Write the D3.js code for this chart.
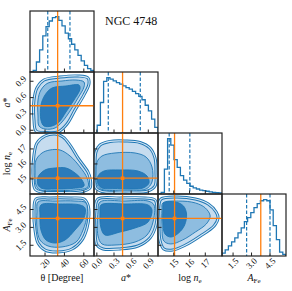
<!DOCTYPE html>
<html>
<head>
<meta charset="utf-8">
<script src="https://cdn.jsdelivr.net/npm/d3@7"></script>
<style>
body { margin: 0; background: #fff; }
svg { display: block; }
</style>
</head>
<body>
<svg width="292" height="291" font-family="'Liberation Serif', 'Times New Roman', 'DejaVu Serif', serif"></svg>
<script>
var svg = d3.select("svg");

// ranges / ticks for theta, a*, log ne, A_Fe
var ranges = [[4.5, 70.5], [-0.05, 1.07], [14.0, 18.06], [0.6, 5.8]];
var tickVals = [[20, 40, 60], [0.0, 0.3, 0.6, 0.9], [15, 16, 17], [1.5, 3.0, 4.5]];
var tickText = [["20", "40", "60"], ["0.0", "0.3", "0.6", "0.9"], ["15", "16", "17"], ["1.5", "3.0", "4.5"]];
var truths = [33, 0.45, 15.05, 3.75];
var qLow = [22.8, 0.2, 14.71, 2.6];
var qHigh = [45.7, 0.76, 16.02, 4.5];

// 1D histograms (20 bins across each range, relative counts)
var thetaHist = [0, 0.03, 0.18, 0.40, 0.65, 0.82, 0.92, 0.98, 1.0, 0.93, 0.83, 0.70, 0.60, 0.50, 0.40, 0.30, 0.20, 0.12, 0.06, 0.03];
var astarHist = [0, 0.14, 0.55, 0.93, 1.0, 0.97, 0.94, 0.91, 0.88, 0.85, 0.82, 0.79, 0.75, 0.71, 0.66, 0.60, 0.50, 0.40, 0.25, 0.10];
var logneHist = [0, 0.03, 0.45, 1.0, 0.88, 0.62, 0.48, 0.33, 0.25, 0.19, 0.14, 0.11, 0.09, 0.07, 0.06, 0.05, 0.04, 0.03, 0.025, 0.02];
var afeHist = [0.05, 0.11, 0.18, 0.25, 0.32, 0.41, 0.50, 0.61, 0.68, 0.77, 0.86, 0.93, 0.98, 1.0, 0.98, 0.82, 0.54, 0.29, 0.07, 0.03];
var hists = [thetaHist, astarHist, logneHist, afeHist];

// 2D contours [outer, middle, inner], points in data units
var thetaAstar = [
  [[18.9,0.923],[35.4,0.978],[54.0,0.997],[64.3,0.96],[65.3,0.85],[60.2,0.65],[50.9,0.37],[42.7,0.115],[33.4,-0.03],[20.0,-0.04],[10.7,-0.013],[8.6,0.19],[8.6,0.56],[11.7,0.78]],
  [[23.1,0.868],[37.5,0.905],[51.9,0.923],[60.2,0.886],[60.2,0.795],[54.0,0.593],[45.8,0.354],[37.5,0.152],[30.3,0.042],[20.0,0.023],[13.8,0.079],[12.75,0.262],[12.75,0.556],[15.8,0.74]],
  [[27.2,0.776],[41.6,0.813],[55.0,0.831],[56.1,0.758],[49.9,0.556],[41.6,0.336],[34.4,0.152],[27.2,0.079],[18.9,0.079],[15.8,0.189],[15.8,0.464],[20.0,0.648]]
];
var thetaLogne = [
  [[11.7,17.40],[20.0,17.86],[30.3,17.99],[38.5,17.80],[45.8,17.26],[54.0,16.40],[64.3,15.46],[66.4,15.07],[66.4,14.40],[56.1,14.13],[35.4,14.10],[16.9,14.13],[9.7,14.33],[7.6,15.26],[8.6,16.60]],
  [[10.7,16.26],[16.9,16.73],[25.1,16.93],[35.4,16.93],[45.8,16.53],[56.1,15.80],[63.3,15.07],[64.3,14.47],[50.9,14.27],[30.3,14.23],[14.8,14.27],[10.7,14.60],[9.66,15.46]],
  [[12.75,15.13],[20.0,15.60],[30.3,15.73],[41.6,15.73],[50.9,15.40],[58.1,14.93],[60.2,14.53],[47.8,14.37],[30.3,14.33],[16.9,14.37],[12.75,14.60]]
];
var astarLogne = [
  [[-0.015,16.80],[0.055,17.26],[0.23,17.50],[0.4925,17.53],[0.755,17.43],[0.93,17.06],[1.0175,16.40],[1.035,15.46],[1.0175,14.53],[0.895,14.20],[0.4925,14.13],[0.09,14.17],[-0.015,14.40],[-0.0325,15.60]],
  [[0.0025,16.13],[0.09,16.53],[0.3175,16.73],[0.6675,16.73],[0.86,16.46],[0.965,15.80],[0.965,14.80],[0.86,14.33],[0.4925,14.27],[0.09,14.30],[0.0025,14.60],[-0.015,15.46]],
  [[0.02,15.20],[0.125,15.53],[0.405,15.60],[0.72,15.53],[0.8775,15.20],[0.9125,14.73],[0.8075,14.40],[0.405,14.37],[0.09,14.40],[0.02,14.67]]
];
var thetaAfe = [
  [[10.7,5.38],[25.1,5.47],[45.8,5.47],[60.2,5.38],[64.3,4.88],[65.3,4.04],[63.3,2.95],[58.1,1.94],[47.8,1.19],[33.4,0.94],[20.0,1.10],[12.75,1.69],[9.66,2.78],[8.6,4.29]],
  [[12.75,5.13],[30.3,5.21],[50.9,5.21],[62.3,5.05],[63.3,4.04],[59.2,2.78],[52.0,1.77],[37.5,1.36],[23.1,1.44],[14.8,1.94],[11.7,2.95],[11.7,4.29]],
  [[15.8,4.88],[35.4,4.96],[56.1,4.88],[61.2,4.63],[60.2,3.79],[50.9,2.78],[40.6,1.94],[30.3,1.69],[21.0,1.94],[15.8,2.78],[14.8,4.04]]
];
var astarAfe = [
  [[0.02,5.38],[0.405,5.47],[0.8425,5.47],[1.0175,5.30],[1.0525,4.46],[1.035,3.20],[0.93,2.11],[0.72,1.44],[0.405,1.19],[0.1075,1.19],[0.0025,1.52],[-0.0325,2.78],[-0.0325,4.46]],
  [[0.055,5.13],[0.4925,5.21],[0.895,5.21],[1.0,4.88],[0.9825,3.45],[0.8775,2.36],[0.6675,1.77],[0.3175,1.52],[0.09,1.61],[0.02,2.28],[0.02,4.29]],
  [[0.0725,4.88],[0.4925,4.96],[0.895,4.88],[0.965,4.46],[0.895,3.45],[0.6675,2.95],[0.405,2.61],[0.1425,2.36],[0.0725,2.95],[0.055,4.29]]
];
var logneAfe = [
  [[14.19,5.38],[15.12,5.55],[16.37,5.38],[17.19,4.96],[17.69,4.29],[17.81,3.79],[17.56,3.12],[16.69,2.28],[15.75,1.52],[14.94,1.10],[14.37,1.19],[14.12,1.94],[14.06,3.62],[14.06,4.88]],
  [[14.31,5.05],[15.31,5.21],[16.37,5.05],[17.0,4.63],[17.31,3.96],[17.06,3.28],[16.37,2.61],[15.56,1.94],[14.81,1.61],[14.37,1.86],[14.25,3.20],[14.25,4.46]],
  [[14.37,5.05],[15.12,5.13],[15.62,4.79],[15.81,4.12],[15.69,3.20],[15.31,2.53],[14.81,2.19],[14.44,2.45],[14.31,3.45],[14.31,4.46]]
];
// [row, col, contours]
var pairs = [[1, 0, thetaAstar], [2, 0, thetaLogne], [2, 1, astarLogne], [3, 0, thetaAfe], [3, 1, astarAfe], [3, 2, logneAfe]];

var xEdges = [30, 94, 158, 222, 286];
var yEdges = [11, 72, 133, 194, 256];
var blue = "#1f77b4", orange = "#ff7f0e", frame = "#222";
var fills = ["#c6dcef", "#8ebde0", "#2b7bba"];

function xScale(j) { return d3.scaleLinear().domain(ranges[j]).range([xEdges[j], xEdges[j + 1]]); }
function yScale(i) { return d3.scaleLinear().domain(ranges[i]).range([yEdges[i + 1], yEdges[i]]); }

var defs = svg.append("defs");
function clipFor(i, j) {
  var id = "clip" + i + j;
  defs.append("clipPath").attr("id", id).append("rect")
    .attr("x", xEdges[j]).attr("y", yEdges[i])
    .attr("width", xEdges[j + 1] - xEdges[j]).attr("height", yEdges[i + 1] - yEdges[i]);
  return "url(#" + id + ")";
}

function drawFrame(i, j, yTicks) {
  var x = xScale(j);
  var g = svg.append("g");
  var bottom = yEdges[i + 1];
  tickVals[j].forEach(function(t) {
    g.append("line").attr("x1", x(t)).attr("x2", x(t))
      .attr("y1", bottom).attr("y2", bottom - 3.5)
      .attr("stroke", frame).attr("stroke-width", 1);
  });
  if (yTicks) {
    var y = yScale(i);
    tickVals[i].forEach(function(t) {
      g.append("line").attr("x1", xEdges[j]).attr("x2", xEdges[j] + 3.5)
        .attr("y1", y(t)).attr("y2", y(t))
        .attr("stroke", frame).attr("stroke-width", 1);
    });
  }
  g.append("rect").attr("x", xEdges[j]).attr("y", yEdges[i])
    .attr("width", xEdges[j + 1] - xEdges[j]).attr("height", yEdges[i + 1] - yEdges[i])
    .attr("fill", "none").attr("stroke", frame).attr("stroke-width", 1.2);
}

// histograms on the diagonal
hists.forEach(function(counts, k) {
  var x = xScale(k);
  var y = d3.scaleLinear().domain([0, 1.1]).range([yEdges[k + 1], yEdges[k]]);
  var w = (ranges[k][1] - ranges[k][0]) / counts.length;
  var pts = [[ranges[k][0], 0]];
  counts.forEach(function(c, b) {
    var e0 = ranges[k][0] + b * w;
    pts.push([e0, c], [e0 + w, c]);
  });
  pts.push([ranges[k][1], 0]);
  var g = svg.append("g").attr("clip-path", clipFor(k, k));
  g.append("path").datum(pts)
    .attr("d", d3.line().x(function(d) { return x(d[0]); }).y(function(d) { return y(d[1]); }))
    .attr("fill", "none").attr("stroke", blue).attr("stroke-width", 1.3);
  [qLow[k], qHigh[k]].forEach(function(q) {
    g.append("line").attr("x1", x(q)).attr("x2", x(q))
      .attr("y1", yEdges[k]).attr("y2", yEdges[k + 1])
      .attr("stroke", blue).attr("stroke-width", 1.2).attr("stroke-dasharray", "3.5,2");
  });
  g.append("line").attr("x1", x(truths[k])).attr("x2", x(truths[k]))
    .attr("y1", yEdges[k]).attr("y2", yEdges[k + 1])
    .attr("stroke", orange).attr("stroke-width", 1.3);
  drawFrame(k, k, false);
});

// 2D contour panels
pairs.forEach(function(p) {
  var i = p[0], j = p[1], levels = p[2];
  var x = xScale(j), y = yScale(i);
  var line = d3.line().curve(d3.curveCatmullRomClosed.alpha(0.5))
    .x(function(d) { return x(d[0]); }).y(function(d) { return y(d[1]); });
  var g = svg.append("g").attr("clip-path", clipFor(i, j));
  levels.forEach(function(poly, l) {
    g.append("path").datum(poly).attr("d", line)
      .attr("fill", fills[l]).attr("stroke", blue).attr("stroke-width", l == 0 ? 3 : 0.9);
    if (l == 0) {
      g.append("path").datum(poly).attr("d", line)
        .attr("fill", "none").attr("stroke", "#d8e7f4").attr("stroke-width", 1.1);
    }
  });
  g.append("line").attr("x1", x(truths[j])).attr("x2", x(truths[j]))
    .attr("y1", yEdges[i]).attr("y2", yEdges[i + 1])
    .attr("stroke", orange).attr("stroke-width", 1.3);
  g.append("line").attr("x1", xEdges[j]).attr("x2", xEdges[j + 1])
    .attr("y1", y(truths[i])).attr("y2", y(truths[i]))
    .attr("stroke", orange).attr("stroke-width", 1.3);
  g.append("rect").attr("x", x(truths[j]) - 1.8).attr("y", y(truths[i]) - 1.8)
    .attr("width", 3.6).attr("height", 3.6).attr("fill", orange);
  drawFrame(i, j, true);
});

// tick labels: bottom row
for (var j = 0; j < 4; j++) {
  var x = xScale(j);
  tickVals[j].forEach(function(t, n) {
    svg.append("text")
      .attr("transform", "translate(" + x(t) + ",263.5) rotate(-45)")
      .attr("text-anchor", "middle").attr("dominant-baseline", "central")
      .attr("font-size", 9).attr("fill", "#111").text(tickText[j][n]);
  });
}
// tick labels: left column
for (var i = 1; i < 4; i++) {
  var y = yScale(i);
  tickVals[i].forEach(function(t, n) {
    var txt = svg.append("text")
      .attr("text-anchor", "middle").attr("dominant-baseline", "central")
      .attr("font-size", 9).attr("fill", "#111").text(tickText[i][n]);
    var w = txt.node().getComputedTextLength();
    var half = (w + 6) / (2 * Math.SQRT2);
    txt.attr("transform", "translate(" + (27 - half) + "," + y(t) + ") rotate(-45)");
  });
}

// axis labels
var xl = [62, 126, 190, 254];
svg.append("text").attr("x", xl[0]).attr("y", 281).attr("text-anchor", "middle")
  .attr("font-size", 10).attr("fill", "#111").text("θ [Degree]");
var t2 = svg.append("text").attr("x", xl[1]).attr("y", 281).attr("text-anchor", "middle").attr("font-size", 10).attr("fill", "#111");
t2.append("tspan").attr("font-style", "italic").text("a");
t2.append("tspan").text("*");
var t3 = svg.append("text").attr("x", xl[2]).attr("y", 281).attr("text-anchor", "middle").attr("font-size", 10).attr("fill", "#111");
t3.append("tspan").text("log ");
t3.append("tspan").attr("font-style", "italic").text("n");
t3.append("tspan").attr("font-size", 7).attr("dy", 2).text("e");
var t4 = svg.append("text").attr("x", xl[3]).attr("y", 281).attr("text-anchor", "middle").attr("font-size", 10).attr("fill", "#111");
t4.append("tspan").attr("font-style", "italic").text("A");
t4.append("tspan").attr("font-size", 7).attr("dy", 2).text("Fe");

function yLabel(row, build) {
  var cy = (yEdges[row] + yEdges[row + 1]) / 2;
  var t = svg.append("text").attr("transform", "translate(10," + cy + ") rotate(-90)")
    .attr("text-anchor", "middle").attr("font-size", 10).attr("fill", "#111");
  build(t);
}
yLabel(1, function(t) { t.append("tspan").attr("font-style", "italic").text("a"); t.append("tspan").text("*"); });
yLabel(2, function(t) {
  t.append("tspan").text("log ");
  t.append("tspan").attr("font-style", "italic").text("n");
  t.append("tspan").attr("font-size", 7).attr("dy", 2).text("e");
});
yLabel(3, function(t) {
  t.append("tspan").attr("font-style", "italic").text("A");
  t.append("tspan").attr("font-size", 7).attr("dy", 2).text("Fe");
});

// title
svg.append("text").attr("x", 105).attr("y", 25).attr("font-size", 12).attr("fill", "#111").text("NGC 4748");
</script>
</body>
</html>
